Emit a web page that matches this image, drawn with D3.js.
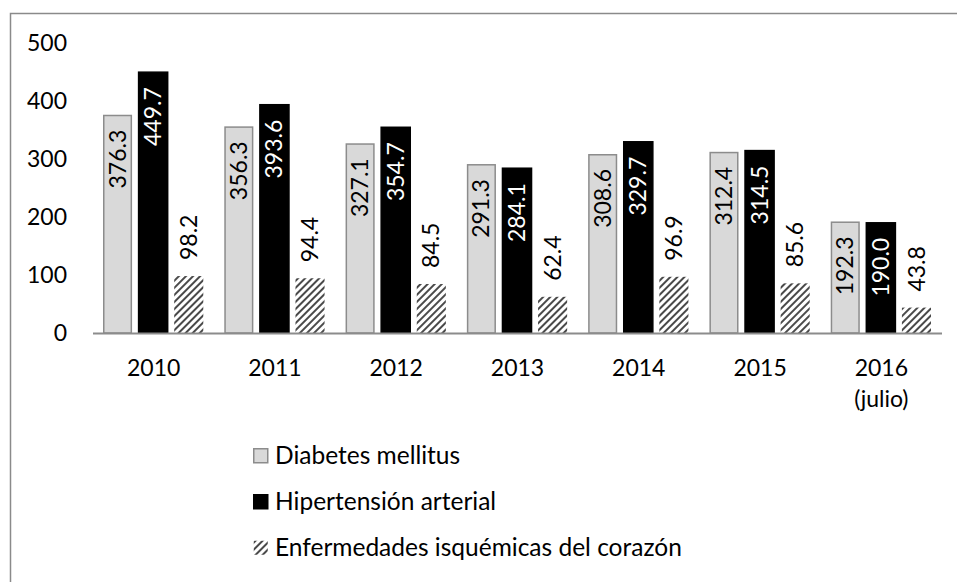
<!DOCTYPE html>
<html>
<head>
<meta charset="utf-8">
<script src="https://cdn.jsdelivr.net/npm/d3@7"></script>
<style>
  body { margin: 0; background: #fff; }
  text { font-family: Lato, "Liberation Sans", sans-serif; }
</style>
</head>
<body>
<div id="chart"></div>
<script>
// data
const years = ['2010', '2011', '2012', '2013', '2014', '2015', '2016'];
const yearSub = ['', '', '', '', '', '', '(julio)'];
const seriesNames = ['Diabetes mellitus', 'Hipertensión arterial', 'Enfermedades isquémicas del corazón'];
const diabetes = [376.3, 356.3, 327.1, 291.3, 308.6, 312.4, 192.3];
const hipertension = [449.7, 393.6, 354.7, 284.1, 329.7, 314.5, 190.0];
const isquemicas = [98.2, 94.4, 84.5, 62.4, 96.9, 85.6, 43.8];
const yTicks = [0, 100, 200, 300, 400, 500];

const W = 957, H = 582;
const plot = { left: 93, right: 942, top: 43, bottom: 333 };

const svg = d3.select('#chart').append('svg')
    .attr('width', W)
    .attr('height', H);

// hatch pattern for the third series
const defs = svg.append('defs');
const pat = defs.append('pattern')
    .attr('id', 'hatch')
    .attr('patternUnits', 'userSpaceOnUse')
    .attr('width', 5)
    .attr('height', 5)
    .attr('patternTransform', 'rotate(45)');
pat.append('rect').attr('width', 5).attr('height', 5).attr('fill', '#fff');
pat.append('rect').attr('x', 0).attr('width', 2).attr('height', 5).attr('fill', '#4a4a4a');

// outer frame (only top/left visible)
svg.append('rect')
    .attr('x', 10.5)
    .attr('y', 13.5)
    .attr('width', W + 20)
    .attr('height', H + 20)
    .attr('fill', 'none')
    .attr('stroke', '#8a8a8a')
    .attr('stroke-width', 1.5);

const y = d3.scaleLinear().domain([0, 500]).range([plot.bottom, plot.top]);
const x0 = d3.scaleBand().domain(years).range([plot.left, plot.right]);
const x1 = d3.scaleBand().domain([0, 1, 2])
    .range([10, x0.bandwidth() - 11])
    .paddingInner(0.183);

// y axis labels
svg.append('g').selectAll('text')
    .data(yTicks)
    .enter().append('text')
    .attr('x', 67)
    .attr('y', d => y(d))
    .attr('dy', '0.36em')
    .attr('text-anchor', 'end')
    .style('font-size', '23px')
    .attr('fill', '#000')
    .text(d => d);

const fills = ['#d9d9d9', '#000', 'url(#hatch)'];
const strokes = ['#8c8c8c', '#000', 'none'];
const rows = years.map((yr, i) => [diabetes[i], hipertension[i], isquemicas[i]]);

const groups = svg.append('g').selectAll('g')
    .data(rows)
    .enter().append('g')
    .attr('transform', (d, i) => 'translate(' + x0(years[i]) + ',0)');

groups.selectAll('rect')
    .data(d => d.map((v, k) => ({ v: v, k: k })))
    .enter().append('rect')
    .attr('x', d => x1(d.k) + (d.k === 0 ? 0.75 : 0))
    .attr('y', d => y(d.v) + (d.k === 0 ? 0.75 : 0))
    .attr('width', d => x1.bandwidth() - (d.k === 0 ? 1.5 : 0))
    .attr('height', d => y(0) - y(d.v) - (d.k === 0 ? 0.75 : 0))
    .attr('fill', d => fills[d.k])
    .attr('stroke', d => strokes[d.k])
    .attr('stroke-width', 1.5);

// value labels, rotated
groups.selectAll('text.val')
    .data(d => d.map((v, k) => ({ v: v, k: k })))
    .enter().append('text')
    .attr('class', 'val')
    .attr('transform', d => {
        const cx = x1(d.k) + x1.bandwidth() / 2;
        const cy = d.k < 2 ? y(d.v) + 15 : y(d.v) - 16;
        return 'translate(' + cx + ',' + cy + ') rotate(-90)';
    })
    .attr('dy', '0.35em')
    .attr('text-anchor', d => d.k < 2 ? 'end' : 'start')
    .style('font-size', '23px')
    .attr('fill', d => d.k === 1 ? '#fff' : '#000')
    .text(d => d.v.toFixed(1));

// x axis line
svg.append('line')
    .attr('x1', plot.left)
    .attr('x2', plot.right)
    .attr('y1', y(0) + 0.5)
    .attr('y2', y(0) + 0.5)
    .attr('stroke', '#8c8c8c')
    .attr('stroke-width', 2);

// category labels
const cat = svg.append('g').selectAll('text')
    .data(years)
    .enter().append('text')
    .attr('x', d => x0(d) + x0.bandwidth() / 2)
    .attr('y', 376)
    .attr('text-anchor', 'middle')
    .style('font-size', '23px')
    .attr('fill', '#000');
cat.append('tspan').text(d => d);
cat.append('tspan')
    .attr('x', d => x0(d) + x0.bandwidth() / 2)
    .attr('dy', 31)
    .text((d, i) => yearSub[i]);

// legend
const legend = svg.append('g').selectAll('g')
    .data(seriesNames)
    .enter().append('g')
    .attr('transform', (d, i) => 'translate(253,' + (464 + i * 46) + ')');

legend.append('rect')
    .attr('x', 0.75)
    .attr('y', -15.25)
    .attr('width', 14)
    .attr('height', 14)
    .attr('fill', (d, i) => i === 2 ? 'url(#hatch)' : fills[i])
    .attr('stroke', (d, i) => strokes[i])
    .attr('stroke-width', 1.5);

legend.append('text')
    .attr('x', 22)
    .attr('y', 0)
    .style('font-size', '24.5px')
    .attr('fill', '#000')
    .text(d => d);
</script>
</body>
</html>
